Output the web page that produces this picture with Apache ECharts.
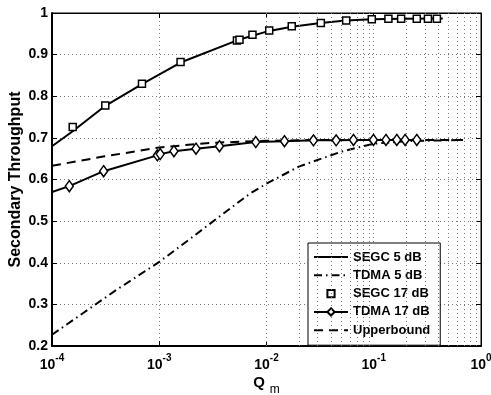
<!DOCTYPE html>
<html><head><meta charset="utf-8">
<script src="https://cdn.jsdelivr.net/npm/echarts@6/dist/echarts.min.js"></script>
<style>html,body{margin:0;padding:0;background:#fff}#c{width:491px;height:395px}</style>
</head><body><div id="c"></div>
<script>
// ---- data ----
const segc5Q  = [1e-4, 1.56e-4, 3.14e-4, 6.9e-4, 1.58e-3, 5.4e-3, 1.06e-2, 1.72e-2, 3.2e-2, 5.5e-2, 0.096, 0.18, 0.44];
const segc5T  = [0.680, 0.716, 0.777, 0.829, 0.881, 0.935, 0.957, 0.967, 0.976, 0.982, 0.985, 0.986, 0.987];
const segc17Q = [1.56e-4, 3.14e-4, 6.9e-4, 1.58e-3, 5.3e-3, 5.6e-3, 7.4e-3, 0.0106, 0.0172, 0.0321, 0.0553, 0.0959, 0.137, 0.180, 0.252, 0.320, 0.388];
const segc17T = [0.726, 0.778, 0.830, 0.882, 0.934, 0.936, 0.948, 0.958, 0.968, 0.976, 0.982, 0.985, 0.986, 0.986, 0.986, 0.986, 0.986];
const tdma17Q = [1e-4, 1.45e-4, 3.03e-4, 9.6e-4, 1.02e-3, 1.37e-3, 2.2e-3, 3.64e-3, 7.94e-3, 0.0147, 0.0274, 0.0446, 0.0647, 0.0993, 0.130, 0.164, 0.196, 0.252];
const tdma17T = [0.570, 0.584, 0.620, 0.658, 0.661, 0.668, 0.674, 0.680, 0.690, 0.692, 0.694, 0.694, 0.695, 0.695, 0.695, 0.695, 0.695, 0.695];
const tdma5Q  = [1e-4, 2e-4, 4e-4, 1e-3, 2e-3, 4e-3, 7e-3, 1e-2, 2e-2, 5e-2, 0.1, 0.2, 0.68];
const tdma5T  = [0.227, 0.281, 0.335, 0.402, 0.460, 0.519, 0.566, 0.590, 0.631, 0.667, 0.686, 0.692, 0.695];
const upperQ  = [1e-4, 3e-4, 1e-3, 3e-3, 1e-2, 3e-2, 0.1, 0.68];
const upperT  = [0.633, 0.655, 0.677, 0.688, 0.693, 0.695, 0.695, 0.695];
const xTickExp = [-4, -3, -2, -1, 0];
const yTicks = [0.2, 0.3, 0.4, 0.5, 0.6, 0.7, 0.8, 0.9, 1];
const seriesNames = ['SEGC 5 dB', 'TDMA 5 dB', 'SEGC 17 dB', 'TDMA 17 dB', 'Upperbound'];

const zip = (a, b) => a.map((v, i) => [v, b[i]]);
// minor log grid positions (2..9 x each decade)
const minorX = [];
xTickExp.slice(0, -1).forEach(e => { for (let k = 2; k <= 9; k++) minorX.push(k * Math.pow(10, e)); });

const FONT = 'Liberation Sans, Arial, sans-serif';
const chart = echarts.init(document.getElementById('c'), null, {renderer: 'canvas'});
const gridDot = {type: [1, 3], color: '#777', width: 1};

chart.setOption({
  animation: false,
  backgroundColor: '#fff',
  textStyle: {fontFamily: FONT},
  grid: {left: 52, right: 10, top: 13, bottom: 49, show: true, borderColor: '#000', borderWidth: 1,
         backgroundColor: '#fff', containLabel: false, outerBoundsMode: 'none'},
  legend: {
    orient: 'vertical', left: 308, top: 243,
    backgroundColor: '#fff', borderColor: '#000', borderWidth: 1,
    padding: [7, 10, 8, 5], itemGap: 4.3, itemWidth: 34, itemHeight: 9,
    textStyle: {fontFamily: FONT, fontWeight: 'bold', fontSize: 13, color: '#000', lineHeight: 14},
    data: seriesNames
  },
  xAxis: [{
    type: 'log', logBase: 10, min: 1e-4, max: 1,
    name: '{q|Q}{m|m}', nameLocation: 'middle', nameGap: 24, nameMoveOverlap: false,
    nameTextStyle: {rich: {
      q: {fontFamily: FONT, fontWeight: 'bold', fontSize: 15, color: '#000'},
      m: {fontFamily: FONT, fontSize: 12, color: '#000', padding: [14, 0, 0, 5]}
    }},
    axisLine: {show: true, lineStyle: {color: '#000', width: 2}},
    axisTick: {show: true, inside: true, length: 5, lineStyle: {color: '#000'}},
    axisLabel: {
      margin: 4, color: '#000',
      formatter: v => '{a|10}{b|' + Math.round(Math.log10(v)) + '}',
      rich: {
        a: {fontFamily: FONT, fontWeight: 'bold', fontSize: 14, color: '#000', padding: [8, 0, 0, 0]},
        b: {fontFamily: FONT, fontWeight: 'bold', fontSize: 10, color: '#000', padding: [0, 0, 6, 0]}
      }
    },
    splitLine: {show: true, lineStyle: gridDot}
  }, {
    type: 'log', logBase: 10, min: 1e-4, max: 1, position: 'top',
    axisLine: {show: true, lineStyle: {color: '#000', width: 1}},
    axisTick: {show: true, inside: true, length: 5, lineStyle: {color: '#000'}},
    axisLabel: {show: false}, splitLine: {show: false}
  }],
  yAxis: [{
    type: 'value', min: 0.2, max: 1, interval: 0.1,
    name: 'Secondary Throughput', nameLocation: 'middle', nameGap: 28, nameMoveOverlap: false,
    nameTextStyle: {fontFamily: FONT, fontWeight: 'bold', fontSize: 16, color: '#000'},
    axisLine: {show: true, lineStyle: {color: '#000', width: 2}},
    axisTick: {show: true, inside: true, length: 5, lineStyle: {color: '#000'}},
    axisLabel: {margin: 4, color: '#000', fontFamily: FONT, fontWeight: 'bold', fontSize: 14,
      formatter: v => (Math.abs(v - 1) < 1e-9 ? '1' : v.toFixed(1))},
    splitLine: {show: true, lineStyle: gridDot}
  }, {
    type: 'value', min: 0.2, max: 1, interval: 0.1, position: 'right',
    axisLine: {show: true, lineStyle: {color: '#000', width: 1}},
    axisTick: {show: true, inside: true, length: 5, lineStyle: {color: '#000'}},
    axisLabel: {show: false}, splitLine: {show: false}
  }],
  series: [
    {
      name: 'TDMA 5 dB', type: 'line', data: zip(tdma5Q, tdma5T), symbol: 'none',
      lineStyle: {color: '#000', width: 2, type: [8, 4, 1.5, 4]}, itemStyle: {color: '#000', opacity: 0}, z: 2,
      markLine: {
        silent: true, symbol: 'none', label: {show: false}, animation: false,
        lineStyle: gridDot, data: minorX.map(x => ({xAxis: x}))
      }
    },
    {
      name: 'Upperbound', type: 'line', data: zip(upperQ, upperT), symbol: 'none',
      lineStyle: {color: '#000', width: 2, type: [9, 6]}, itemStyle: {color: '#000', opacity: 0}, z: 3
    },
    {
      name: 'SEGC 5 dB', type: 'line', data: zip(segc5Q, segc5T), symbol: 'none',
      lineStyle: {color: '#000', width: 2}, itemStyle: {color: '#000', opacity: 0}, z: 4
    },
    {
      name: 'TDMA 17 dB', type: 'line',
      data: zip(tdma17Q, tdma17T).map((p, i) => i === 0 ? {value: p, symbol: 'none'} : p),
      symbol: 'diamond', symbolSize: [8, 11], showAllSymbol: true,
      lineStyle: {color: '#000', width: 2},
      itemStyle: {color: '#fff', borderColor: '#000', borderWidth: 1.5}, z: 5
    },
    {
      name: 'SEGC 17 dB', type: 'line', data: zip(segc17Q, segc17T),
      symbol: 'rect', symbolSize: 7, showAllSymbol: true,
      lineStyle: {width: 0, opacity: 0},
      itemStyle: {color: '#fff', borderColor: '#000', borderWidth: 1.5}, z: 6
    }
  ]
});
</script></body></html>
